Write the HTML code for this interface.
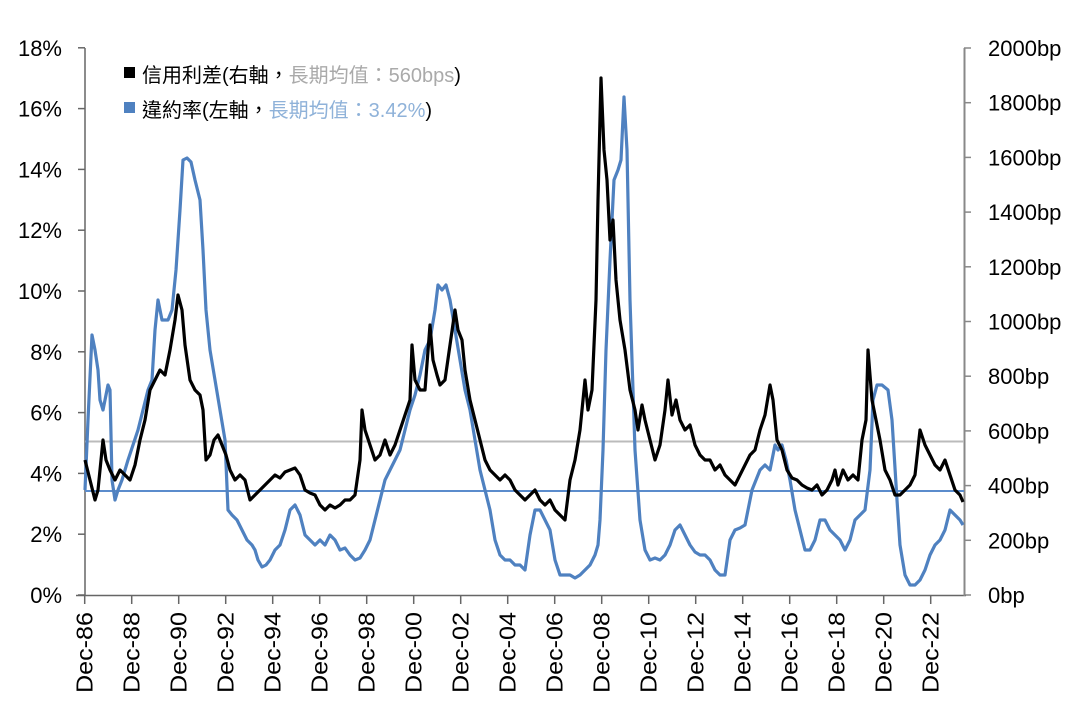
<!DOCTYPE html>
<html><head><meta charset="utf-8"><style>
html,body{margin:0;padding:0;background:#fff;}
svg{display:block;font-family:"Liberation Sans","Noto Sans CJK TC",sans-serif;}
</style></head><body>
<svg id="s" width="1077" height="718" viewBox="0 0 1077 718">
<g id="grid"></g>
<line x1="85" y1="48" x2="85" y2="596" stroke="#666" stroke-width="1.5"/>
<line x1="76" y1="595.5" x2="966" y2="595.5" stroke="#666" stroke-width="1.5"/>
<line x1="964.5" y1="48" x2="964.5" y2="596" stroke="#888" stroke-width="2"/>
<line x1="85" y1="441.5" x2="964" y2="441.5" stroke="#bbb" stroke-width="2"/>
<line x1="85" y1="491" x2="964" y2="491" stroke="#5b8ccc" stroke-width="2"/>
<polyline id="blue" fill="none" stroke="#4f81c0" stroke-width="3.2" stroke-linejoin="round"/>
<polyline id="black" fill="none" stroke="#000" stroke-width="3.2" stroke-linejoin="round"/>
<rect x="124" y="67" width="11" height="11" fill="#000"/>
<text x="142" y="82" font-size="20"><tspan fill="#000">信用利差(右軸，</tspan><tspan fill="#aaa">長期均值：560bps</tspan><tspan fill="#000">)</tspan></text>
<rect x="124" y="102" width="11" height="11" fill="#4f81c0"/>
<text x="142" y="117" font-size="20"><tspan fill="#000">違約率(左軸，</tspan><tspan fill="#8fb2d9">長期均值：3.42%</tspan><tspan fill="#000">)</tspan></text>
</svg>
<script>
var s=document.getElementById('s'),g=document.getElementById('grid'),NS='http://www.w3.org/2000/svg';
function el(t,a,txt){var e=document.createElementNS(NS,t);for(var k in a)e.setAttribute(k,a[k]);if(txt)e.textContent=txt;g.appendChild(e);return e;}
for(var i=0;i<=9;i++){var y=595-i*60.8;
 el('line',{x1:78,y1:y,x2:85,y2:y,stroke:'#666','stroke-width':1.5});
 el('text',{x:62,y:y+8,'font-size':22,'text-anchor':'end'},(i*2)+'%');}
for(var i=0;i<=10;i++){var y=595-i*54.7;
 el('line',{x1:964,y1:y,x2:971,y2:y,stroke:'#888','stroke-width':1.5});
 el('text',{x:988,y:y+8,'font-size':22},(i*200)+'bp');}
var yrs=['86','88','90','92','94','96','98','00','02','04','06','08','10','12','14','16','18','20','22'];
for(var i=0;i<yrs.length;i++){var x=84.7+i*47;
 el('line',{x1:x,y1:595,x2:x,y2:604,stroke:'#666','stroke-width':1.5});
 el('text',{x:0,y:0,'font-size':23,'text-anchor':'end',textLength:81,lengthAdjust:'spacingAndGlyphs',transform:'translate('+(x+8)+',612) rotate(-90)'},'Dec-'+yrs[i]);}
var bk=[85,460,90,480,95,500,98,490,100,470,103,440,106,460,110,470,115,480,120,470,125,475,130,480,135,465,140,440,145,420,150,390,155,380,160,370,165,375,170,350,175,320,178,295,182,310,185,345,190,380,195,390,200,395,203,410,206,460,210,455,214,440,218,435,222,445,226,455,230,470,235,480,240,475,245,480,250,500,255,495,260,490,265,485,270,480,275,475,280,478,285,472,290,470,295,468,300,475,305,490,310,493,315,495,320,505,325,510,330,505,335,508,340,505,345,500,350,500,355,495,360,460,362,410,365,430,370,445,375,460,380,455,385,440,390,455,395,445,400,430,405,415,410,400,412,345,415,380,420,390,425,390,430,325,433,360,437,375,440,385,445,380,450,345,455,310,458,330,462,340,465,370,470,400,475,420,480,440,485,460,490,470,495,475,500,480,505,475,510,480,515,490,520,495,525,500,530,495,535,490,540,500,545,505,550,500,555,510,560,515,565,520,570,480,575,460,580,430,585,380,588,410,592,390,596,300,598,200,601,78,604,150,607,180,610,240,613,220,616,280,620,320,625,350,630,390,635,410,638,430,642,405,645,420,650,440,655,460,660,445,665,410,668,380,672,415,676,400,680,420,685,430,690,425,695,445,700,455,705,460,710,460,715,470,720,465,725,475,730,480,735,485,740,475,745,465,750,455,755,450,760,430,765,415,770,385,773,400,777,440,782,450,787,470,792,478,797,480,802,485,807,488,812,490,817,485,822,495,827,490,832,480,835,470,838,485,843,470,848,480,853,475,858,480,862,440,866,420,868,350,872,400,876,420,880,440,885,470,890,480,895,495,900,495,905,490,910,485,915,475,920,430,925,445,930,455,935,465,940,470,945,460,950,475,955,490,960,495,963,502];
var bl=[85,490,88,420,92,335,95,350,98,370,100,400,103,410,106,395,108,385,110,390,112,480,115,500,118,490,122,480,125,470,128,460,133,445,138,430,143,410,148,390,152,380,155,330,158,300,162,320,165,320,168,320,172,310,176,270,180,210,183,160,187,158,191,162,195,180,200,200,203,250,206,310,210,350,215,380,220,410,225,440,228,510,232,515,237,520,242,530,247,540,252,545,255,550,258,560,262,567,266,565,270,560,275,550,280,545,285,530,290,510,295,505,300,515,305,535,310,540,315,545,320,540,325,545,330,535,335,540,340,550,345,548,350,555,355,560,360,558,365,550,370,540,375,520,380,500,385,480,390,470,395,460,400,450,405,430,410,410,415,395,420,375,425,350,430,340,435,310,438,285,442,290,446,285,450,300,455,330,460,360,465,390,470,410,475,440,480,470,485,490,490,510,495,540,500,555,505,560,510,560,515,565,520,565,525,570,530,535,535,510,540,510,545,520,550,530,555,560,560,575,565,575,570,575,575,578,580,575,585,570,590,565,595,555,598,545,600,520,603,450,606,350,610,260,614,180,618,170,621,160,624,97,627,150,630,300,635,450,640,520,645,550,650,560,655,558,660,560,665,555,670,545,675,530,680,525,685,535,690,545,695,552,700,555,705,555,710,560,715,570,720,575,725,575,730,540,735,530,740,528,745,525,748,510,752,490,756,480,760,470,765,465,770,470,775,445,778,450,782,445,786,460,790,480,795,510,800,530,805,550,810,550,815,540,820,520,825,520,830,530,835,535,840,540,845,550,850,540,855,520,860,515,865,510,870,470,873,400,877,385,882,385,888,390,892,420,897,500,900,545,905,575,910,585,915,585,920,580,925,570,930,555,935,545,940,540,945,530,950,510,955,515,960,520,963,525];
function pts(a){var r=[];for(var i=0;i<a.length;i+=2)r.push(a[i]+','+a[i+1]);return r.join(' ');}
document.getElementById('black').setAttribute('points',pts(bk));
document.getElementById('blue').setAttribute('points',pts(bl));
</script>
</body></html>
